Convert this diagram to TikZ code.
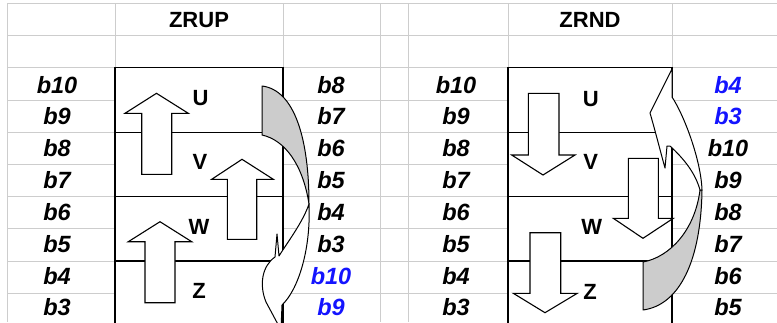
\documentclass[tikz,border=0pt]{standalone}
\usepackage{fontspec}
\setmainfont{Liberation Sans}
\definecolor{gridgray}{RGB}{205,205,205}
\definecolor{bandgray}{RGB}{204,204,204}
\definecolor{labblue}{RGB}{20,20,255}
\begin{document}
\begin{tikzpicture}[x=1pt,y=-1pt,
  grid/.style={draw=gridgray,line width=1pt},
  boxcell/.style={draw=black,fill=white,line width=1.2pt},
  blockarrow/.style={draw=black,fill=white,line width=1.1pt,line join=miter},
  backband/.style={draw=black,fill=bandgray,line width=1pt,line join=round},
  frontface/.style={draw=black,fill=white,line width=1pt,line join=round},
  blabel/.style={font=\fontsize{23.5}{26}\selectfont\bfseries\itshape,inner sep=0pt,text=black},
  bblue/.style={blabel,text=labblue},
  hdr/.style={font=\fontsize{22}{26}\selectfont\bfseries,inner sep=0pt,text=black}
]
\useasboundingbox (0,0) rectangle (777,322);
\begin{scope}
\clip (0,0) rectangle (777,322);
\fill[white] (0,0) rectangle (777,322);
% grid
\foreach \yy in {3,35,67.8,100,132.2,164.4,196.6,228.8,261,293.2}
  \draw[grid] (7,\yy) -- (777,\yy);
\foreach \xx in {7,115,283,380,408,508,672}
  \draw[grid] (\xx,3) -- (\xx,322);
% left boxes
\draw[boxcell] (115,67.8) rectangle (283,132.2);
\draw[boxcell] (115,132.2) rectangle (283,196.6);
\draw[boxcell] (115,196.6) rectangle (283,261);
\draw[boxcell] (115,261) rectangle (283,340);
% right boxes
\draw[boxcell] (508,67.8) rectangle (672,132.2);
\draw[boxcell] (508,132.2) rectangle (672,196.6);
\draw[boxcell] (508,196.6) rectangle (672,261);
\draw[boxcell] (508,261) rectangle (672,340);
% left up arrows
\draw[blockarrow] (141.7,174.3) -- (141.7,113.3) -- (125,113.3) -- (156.5,93.3) -- (188.3,113.3) -- (171.7,113.3) -- (171.7,174.3) -- cycle;
\draw[blockarrow] (227.3,239.3) -- (227.3,179.3) -- (211.7,179.3) -- (242,159.3) -- (273.3,179.3) -- (256.7,179.3) -- (256.7,239.3) -- cycle;
\draw[blockarrow] (145,302.7) -- (145,241.7) -- (128.3,241.7) -- (160,221.7) -- (191.7,241.7) -- (175,241.7) -- (175,302.7) -- cycle;
% right down arrows
\draw[blockarrow] (528.3,93.3) -- (528.3,155) -- (511.7,155) -- (543,175) -- (575,155) -- (559,155) -- (559,93.3) -- cycle;
\draw[blockarrow] (628.3,158.3) -- (628.3,218.3) -- (613.3,218.3) -- (643,238.3) -- (673.3,218.3) -- (658.3,218.3) -- (658.3,158.3) -- cycle;
\draw[blockarrow] (530,232.7) -- (530,293.3) -- (513.3,293.3) -- (545,312.7) -- (577.3,293.3) -- (560.7,293.3) -- (560.7,232.7) -- cycle;
% left curved arrow
\draw[backband] (262,86) .. controls (295,90) and (309,140) .. (309,204)
   .. controls (303,165) and (285,140) .. (262,135) -- cycle;
\draw[frontface] (309,204) .. controls (303,222) and (287,243) .. (279,256)
   -- (277,234) -- (275,257) .. controls (262,266) and (259,285) .. (266,302)
   -- (281,330) -- (282,305) .. controls (298,290) and (311,250) .. (309,204) -- cycle;
% right curved arrow
\draw[backband] (643,310) -- (643,262) .. controls (670,257) and (695,230) .. (700,190)
   -- (702,190) .. controls (701,260) and (680,305) .. (643,310) -- cycle;
\draw[frontface] (672,69) -- (650,113) .. controls (655,130) and (660,150) .. (665,168)
   -- (667,146) -- (670,146) .. controls (683,158) and (695,172) .. (700,190)
   -- (702,190) .. controls (701,160) and (684,115) .. (672,97) -- cycle;
% headers
\node[hdr] (hzrup) at (199,20.5) {ZRUP};
\node[hdr] (hzrnd) at (590,20) {ZRND};
% box labels
\node[hdr] (lu) at (200.5,98) {U};
\node[hdr] (lv) at (200,161.5) {V};
\node[hdr] (lw) at (199,226.7) {W};
\node[hdr] (lz) at (199,291) {Z};
\node[hdr] (ru) at (590.7,99.3) {U};
\node[hdr] (rv) at (590.7,161.7) {V};
\node[hdr] (rw) at (591.7,226.7) {W};
\node[hdr] (rz) at (590,291.7) {Z};
% left panel, left column
\node[blabel] (a1) at (57,85) {b10};
\node[blabel] (a2) at (57,116.5) {b9};
\node[blabel] (a3) at (57,148.5) {b8};
\node[blabel] (a4) at (57,180) {b7};
\node[blabel] (a5) at (57,212) {b6};
\node[blabel] (a6) at (57,244) {b5};
\node[blabel] (a7) at (57,276) {b4};
\node[blabel] (a8) at (57,307.5) {b3};
% left panel, right column
\node[blabel] (c1) at (331,85) {b8};
\node[blabel] (c2) at (331,116.5) {b7};
\node[blabel] (c3) at (331,148.5) {b6};
\node[blabel] (c4) at (331,180) {b5};
\node[blabel] (c5) at (331,212) {b4};
\node[blabel] (c6) at (331,244) {b3};
\node[bblue] (c7) at (331,276) {b10};
\node[bblue] (c8) at (331,307.5) {b9};
% right panel, left column
\node[blabel] (d1) at (456,85) {b10};
\node[blabel] (d2) at (456,116.5) {b9};
\node[blabel] (d3) at (456,148.5) {b8};
\node[blabel] (d4) at (456,180) {b7};
\node[blabel] (d5) at (456,212) {b6};
\node[blabel] (d6) at (456,244) {b5};
\node[blabel] (d7) at (456,276) {b4};
\node[blabel] (d8) at (456,307.5) {b3};
% right panel, right column
\node[bblue] (e1) at (728,85) {b4};
\node[bblue] (e2) at (728,116.5) {b3};
\node[blabel] (e3) at (728,148.5) {b10};
\node[blabel] (e4) at (728,180) {b9};
\node[blabel] (e5) at (728,212) {b8};
\node[blabel] (e6) at (728,244) {b7};
\node[blabel] (e7) at (728,276) {b6};
\node[blabel] (e8) at (728,307.5) {b5};
\end{scope}
\end{tikzpicture}
\end{document}
